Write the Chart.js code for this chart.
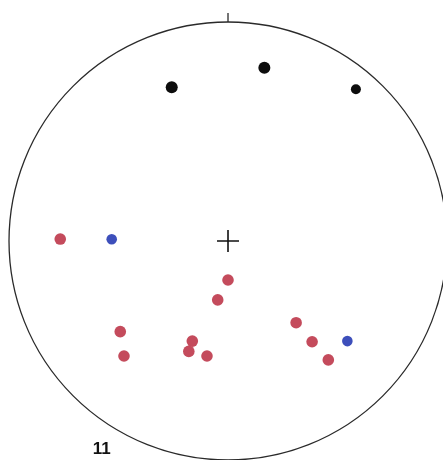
<!DOCTYPE html>
<html>
<head>
<meta charset="utf-8">
<script src="https://cdn.jsdelivr.net/npm/chart.js@4.4.1/dist/chart.umd.min.js"></script>
<style>
  html, body { margin: 0; padding: 0; background: #fff; }
  #wrap { width: 443px; height: 460px; position: relative; }
</style>
</head>
<body>
<div id="wrap"><canvas id="net"></canvas></div>
<script>
// Projected positions on the unit net (x east, y north)
const blackX = [-0.257, 0.166, 0.584];
const blackY = [0.702, 0.791, 0.693];
const blackSize = [6, 6, 5];

const redX = [-0.766, 0.000, -0.047, -0.492, -0.475, -0.163, -0.179, -0.096, 0.311, 0.384, 0.458];
const redY = [0.009, -0.178, -0.269, -0.414, -0.525, -0.457, -0.504, -0.525, -0.373, -0.460, -0.543];

const blueX = [-0.531, 0.545];
const blueY = [0.008, -0.457];

const panelLabel = '11';

const toPoints = (xs, ys) => xs.map((x, i) => ({ x: x, y: ys[i] }));

// Primitive circle, north tick, centre cross and panel number
const netFrame = {
  id: 'netFrame',
  beforeDatasetsDraw(chart) {
    const { ctx, scales: { x, y } } = chart;
    const cx = x.getPixelForValue(0);
    const cy = y.getPixelForValue(0);
    const r = x.getPixelForValue(1) - cx;
    ctx.save();
    ctx.strokeStyle = '#2a2a2a';
    ctx.lineWidth = 1.3;
    ctx.beginPath();
    ctx.arc(cx, cy, r, 0, Math.PI * 2);
    ctx.stroke();
    // north tick
    ctx.beginPath();
    ctx.moveTo(cx, cy - r);
    ctx.lineTo(cx, cy - r - 9);
    ctx.stroke();
    // centre cross
    ctx.lineWidth = 1.6;
    ctx.strokeStyle = '#111';
    const h = 11;
    ctx.beginPath();
    ctx.moveTo(cx - h, cy);
    ctx.lineTo(cx + h, cy);
    ctx.moveTo(cx, cy - h);
    ctx.lineTo(cx, cy + h);
    ctx.stroke();
    // panel number
    ctx.fillStyle = '#111';
    ctx.font = 'bold 17px "Liberation Sans", Arial, sans-serif';
    ctx.textAlign = 'center';
    ctx.textBaseline = 'alphabetic';
    ctx.fillText(panelLabel, x.getPixelForValue(-0.577), y.getPixelForValue(-0.973));
    ctx.restore();
  }
};

new Chart(document.getElementById('net'), {
  type: 'scatter',
  data: {
    datasets: [
      {
        data: toPoints(blackX, blackY),
        backgroundColor: '#0d0d0d',
        borderWidth: 0,
        pointRadius: blackSize,
        clip: false
      },
      {
        data: toPoints(redX, redY),
        backgroundColor: '#c44b5c',
        borderWidth: 0,
        pointRadius: 5.8,
        clip: false
      },
      {
        data: toPoints(blueX, blueY),
        backgroundColor: '#3d4fbb',
        borderWidth: 0,
        pointRadius: 5.3,
        clip: false
      }
    ]
  },
  options: {
    responsive: true,
    maintainAspectRatio: false,
    animation: false,
    events: [],
    layout: { padding: 0, autoPadding: false },
    plugins: { legend: { display: false }, tooltip: { enabled: false } },
    scales: {
      x: { type: 'linear', display: false, min: -1.0411, max: 0.9817 },
      y: { type: 'linear', display: false, min: -1.0, max: 1.1005 }
    }
  },
  plugins: [netFrame]
});
</script>
</body>
</html>
